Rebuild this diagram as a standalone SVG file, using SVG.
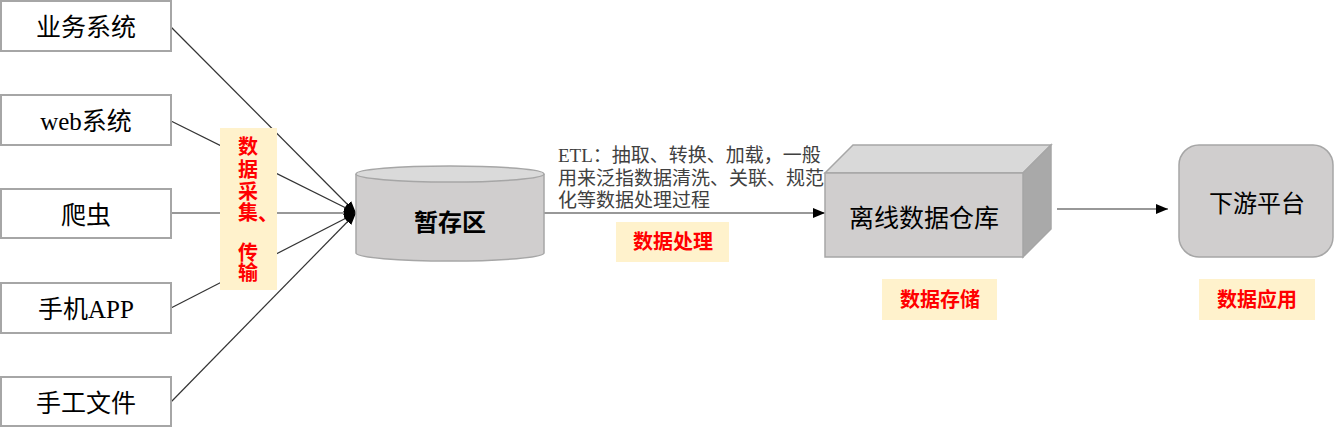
<svg xmlns="http://www.w3.org/2000/svg" width="1336" height="433" viewBox="0 0 1336 433">
<style>
.src{fill:#ffffff;stroke:#a6a6a6;stroke-width:2}
.t{font-family:'Liberation Serif','Noto Sans CJK SC',serif;fill:#000000;text-anchor:middle;dominant-baseline:central}
.lbl{fill:#fff2cc}
.red{font-family:'Liberation Serif','Noto Sans CJK SC',serif;fill:#ff0000;font-weight:bold;font-size:20px;text-anchor:middle;dominant-baseline:central}
.etl{font-family:'Liberation Serif','Noto Sans CJK SC',serif;fill:#404040;font-size:19px}
.conn{stroke:#333333;stroke-width:1.2;fill:none}
.gray{fill:#d0cece;stroke:#a6a6a6;stroke-width:1.5}
</style>
<defs>
<marker id="ah" markerUnits="userSpaceOnUse" markerWidth="12" markerHeight="10" refX="12" refY="5" orient="auto">
<path d="M0,0 L12,5 L0,10 Z" fill="#000000"/>
</marker>
</defs>
<rect width="1336" height="433" fill="#ffffff"/>

<g id="connectors">
<line class="conn" x1="171" y1="27" x2="356" y2="213" marker-end="url(#ah)"/>
<line class="conn" x1="171" y1="121" x2="356" y2="213" marker-end="url(#ah)"/>
<line class="conn" x1="171" y1="213" x2="356" y2="213" marker-end="url(#ah)"/>
<line class="conn" x1="171" y1="308" x2="356" y2="213" marker-end="url(#ah)"/>
<line class="conn" x1="171" y1="402" x2="356" y2="213" marker-end="url(#ah)"/>
<line class="conn" x1="544" y1="213" x2="825" y2="213" marker-end="url(#ah)"/>
<line class="conn" x1="1057" y1="209" x2="1168" y2="209" marker-end="url(#ah)"/>
</g>

<g id="n-yewu">
<rect class="src" x="1" y="1" width="170" height="50"/>
<text class="t" x="86" y="27" font-size="25">业务系统</text>
</g>
<g id="n-web">
<rect class="src" x="1" y="95" width="170" height="50"/>
<text class="t" x="86" y="121" font-size="25">web系统</text>
</g>
<g id="n-pachong">
<rect class="src" x="1" y="189" width="170" height="49"/>
<text class="t" x="86" y="215" font-size="25">爬虫</text>
</g>
<g id="n-app">
<rect class="src" x="1" y="283" width="170" height="50"/>
<text class="t" x="86" y="309" font-size="25">手机APP</text>
</g>
<g id="n-shougong">
<rect class="src" x="1" y="377" width="170" height="49"/>
<text class="t" x="86" y="403" font-size="25">手工文件</text>
</g>

<g id="label-caiji">
<rect class="lbl" x="220" y="128" width="57" height="162"/>
<text class="red" x="248" y="147">数</text>
<text class="red" x="248" y="170">据</text>
<text class="red" x="248" y="192">采</text>
<text class="red" x="248" y="213">集</text>
<text class="red" x="268" y="214">、</text>
<text class="red" x="248" y="253">传</text>
<text class="red" x="248" y="273">输</text>
</g>

<g id="n-zancun">
<path class="gray" d="M356,174 L356,253 A94,8 0 0 0 544,253 L544,174"/>
<ellipse cx="450" cy="174" rx="94" ry="8" fill="#dadada" stroke="#a6a6a6" stroke-width="1.5"/>
<text class="t" x="450" y="220" font-size="24" font-weight="bold" style="font-family:'Noto Sans CJK SC',sans-serif">暂存区</text>
</g>

<g id="etl-text">
<text class="etl" x="558" y="162">ETL：抽取、转换、加载，一般</text>
<text class="etl" x="558" y="185">用来泛指数据清洗、关联、规范</text>
<text class="etl" x="558" y="207">化等数据处理过程</text>
</g>

<g id="label-chuli">
<rect class="lbl" x="616" y="222" width="113" height="40"/>
<text class="red" x="673" y="242">数据处理</text>
</g>

<g id="n-dw">
<path d="M825,173 L853,145 L1051,145 L1023,173 Z" fill="#d9d9d9" stroke="#a6a6a6" stroke-width="1.5"/>
<path d="M1023,173 L1051,145 L1051,229 L1023,257 Z" fill="#a9a9a9" stroke="#a6a6a6" stroke-width="1.5"/>
<rect class="gray" x="825" y="173" width="198" height="84"/>
<text class="t" x="924" y="218" font-size="25">离线数据仓库</text>
</g>

<g id="label-cunchu">
<rect class="lbl" x="882" y="279" width="115" height="41"/>
<text class="red" x="940" y="300">数据存储</text>
</g>

<g id="n-xiayou">
<rect class="gray" x="1179" y="145" width="154" height="112" rx="20" ry="20"/>
<text class="t" x="1257" y="204" font-size="24">下游平台</text>
</g>

<g id="label-yingyong">
<rect class="lbl" x="1199" y="279" width="116" height="41"/>
<text class="red" x="1257" y="300">数据应用</text>
</g>
</svg>
